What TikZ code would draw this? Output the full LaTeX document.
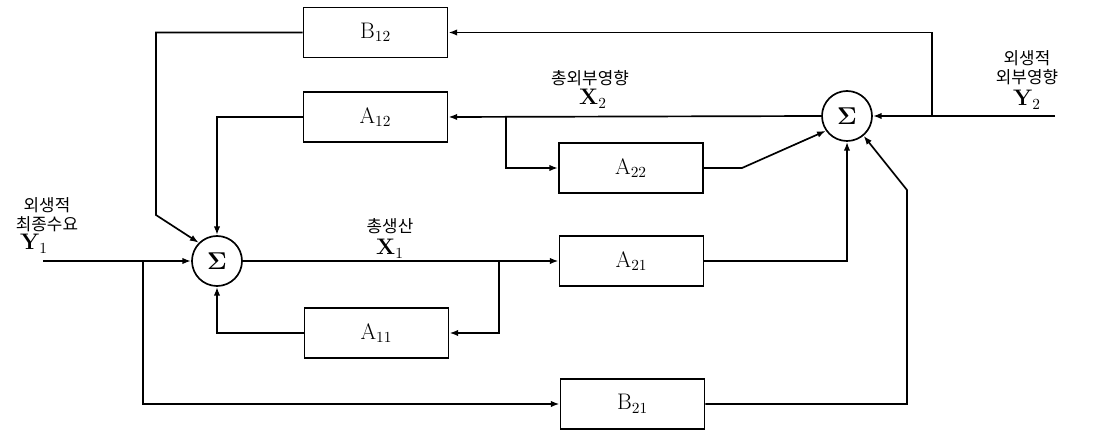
\documentclass[tikz,border=0pt]{standalone}
\usepackage{amsmath,amssymb}
\usepackage{fontspec}
\newfontfamily\kr{Noto Sans CJK KR}
\usepackage{tikz}
\usetikzlibrary{arrows.meta}

\begin{document}
\begin{tikzpicture}[x=0.025cm, y=-0.025cm, line width=1.2pt,
  every node/.style={font=\fontsize{16}{18}\selectfont},
  blk/.style={draw, rectangle, minimum width=3.6cm, minimum height=1.25cm, inner sep=0pt},
  sum/.style={draw, circle, minimum size=1.25cm, inner sep=0pt},
  lbl/.style={align=center, inner sep=0pt, font=\kr\fontsize{12}{13.5}\selectfont},
  var/.style={inner sep=0pt},
  sig/.style={-{Latex[length=2.2mm,width=1.6mm]}}]
 \useasboundingbox (0,0) rectangle (1107,431);
 % blocks
 \node[blk] (b12) at (375.5,32.5) {$\mathrm{B}_{12}$};
 \node[blk] (a12) at (375.5,117) {$\mathrm{A}_{12}$};
 \node[blk] (a22) at (631,168) {$\mathrm{A}_{22}$};
 \node[blk] (a21) at (631.5,261) {$\mathrm{A}_{21}$};
 \node[blk] (a11) at (376.5,333) {$\mathrm{A}_{11}$};
 \node[blk] (b21) at (632.5,404) {$\mathrm{B}_{21}$};
 \node[sum] (s1) at (217,261) {$\boldsymbol{\Sigma}$};
 \node[sum] (s2) at (847,116) {$\boldsymbol{\Sigma}$};
 % end points
 \coordinate (y1in) at (43,261);
 \coordinate (y2in) at (1055,116);
 % labels
 \node[lbl] (ly1) at (47,215) {외생적\\최종수요};
 \node[var] (ty1) at (34,244) {\textbf{Y}$_1$};
 \node[lbl] (lx1) at (390,226) {총생산};
 \node[var] (tx1) at (390,249) {\textbf{X}$_1$};
 \node[lbl] (lx2) at (590,78) {총외부영향};
 \node[var] (tx2) at (593,99) {\textbf{X}$_2$};
 \node[lbl] (ly2) at (1027,68) {외생적\\외부영향};
 \node[var] (ty2) at (1027,100) {\textbf{Y}$_2$};
 % signal lines
 \draw[sig] (y1in) -- (s1.west);
 \draw[sig] (143,261) -- (143,404) -- (b21.west);
 \draw[sig] (s1.east) -- (a21.west);
 \draw[sig] (499,261) -- (499,333) -- (a11.east);
 \draw[sig] (a11.west) -| (s1.south);
 \draw[sig] (a21.east) -| (s2.south);
 \draw[sig] (b21.east) -| (907,190) -- (s2.-50);
 \draw[sig] (a22.east) -- (742,168) -- (s2.-145);
 \draw[sig] (y2in) -- (s2.east);
 \draw[sig] (932,116) -- (932,32.5) -- (b12.east);
 \draw[sig] (s2.west) -- (a12.east);
 \draw[sig] (506,117) -- (506,168) -- (a22.west);
 \draw[sig] (a12.west) -| (s1.north);
 \draw[sig] (b12.west) -- (156,32.5) -- (156,215) -- (s1.135);
\end{tikzpicture}
\end{document}
